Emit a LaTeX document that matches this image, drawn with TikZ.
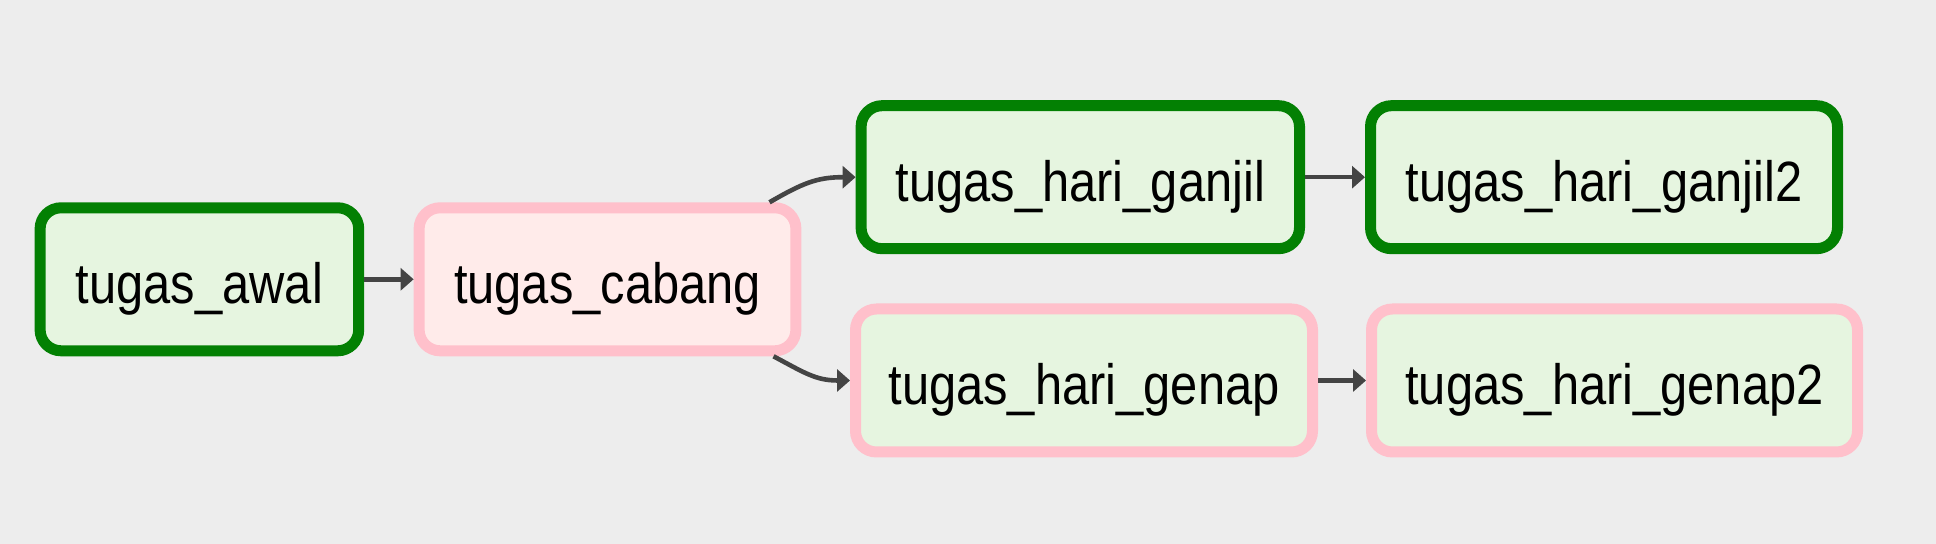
\documentclass[tikz,border=0pt]{standalone}
\usepackage{fontspec}
\setmainfont[FakeStretch=0.86]{Liberation Sans}
\usetikzlibrary{arrows.meta}
\definecolor{bgc}{HTML}{EDEDED}
\definecolor{okgreen}{HTML}{038003}
\definecolor{skippink}{HTML}{FFC0CB}
\definecolor{greenfill}{HTML}{E6F5E0}
\definecolor{pinkfill}{HTML}{FFEBEA}
\definecolor{edgegray}{HTML}{444444}
\begin{document}
\begin{tikzpicture}[x=0.5pt,y=0.5pt,
  task/.style={rectangle, rounded corners=10.5pt, line width=5.5pt, minimum height=71.5pt,
    inner sep=0pt, text height=24pt, text depth=0pt,
    font=\fontsize{28.4}{32}\selectfont, text=black},
  okbox/.style={task, draw=okgreen, fill=greenfill},
  skipbox/.style={task, draw=skippink, fill=greenfill},
  skipbranch/.style={task, draw=skippink, fill=pinkfill},
  edge/.style={draw=edgegray, line width=2.3pt, -{Triangle[length=6.5pt,width=11pt]}}]
\fill[bgc] (0,0) rectangle (1936,544);
\useasboundingbox (0,0) rectangle (1936,544);
\node[okbox, minimum width=159.3pt] (awal) at (199.4,264.7) {tugas\_awal};
\node[skipbranch, minimum width=188.4pt] (cabang) at (607.5,264.7) {tugas\_cabang};
\node[okbox, minimum width=219.2pt] (ganjil) at (1080.3,366.8) {tugas\_hari\_ganjil};
\node[okbox, minimum width=233.5pt] (ganjil2) at (1604,366.8) {tugas\_hari\_ganjil2};
\node[skipbox, minimum width=228.5pt] (genap) at (1084,163.5) {tugas\_hari\_genap};
\node[skipbox, minimum width=243pt] (genap2) at (1614.5,163.5) {tugas\_hari\_genap2};
\draw[edge] (awal.east) -- (cabang.west);
\draw[edge] ([xshift=81pt]cabang.north) to[out=30,in=180,looseness=1.1] (ganjil.west);
\draw[edge] ([xshift=83pt]cabang.south) to[out=-28,in=180,looseness=1.1] (genap.west);
\draw[edge] (ganjil.east) -- (ganjil2.west);
\draw[edge] (genap.east) -- (genap2.west);
\end{tikzpicture}
\end{document}
